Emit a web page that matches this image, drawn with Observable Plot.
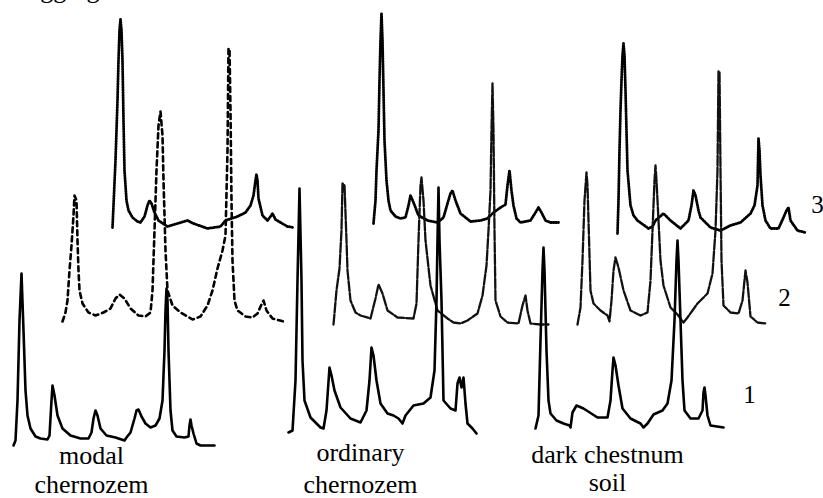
<!DOCTYPE html>
<html><head><meta charset="utf-8">
<script src="https://cdn.jsdelivr.net/npm/d3@7"></script>
<script src="https://cdn.jsdelivr.net/npm/@observablehq/plot@0.6"></script>
<style>body{margin:0;background:#fff} #chart svg text{font-family:'Liberation Serif','Times New Roman',serif !important}</style>
</head><body><div id="chart"></div>
<script>
// ---- Data: diffractogram scans (position along scan, intensity above baseline) ----
const soilsTop = ["modal", "ordinary", "dark chestnum"];
const soilsBottom = ["chernozem", "chernozem", "soil"];
const curveLabels = ["1", "2", "3"];
const titleText = "Aggregates";

// modal chernozem
const modal1Pos = [0,2,4,6,8,10,12,14,17,22,27,34,36,38,39,41,44,49,57,67,75,78,80,82,84,87,93,102,111,113,117,121,123,125,128,132,137,142,146,149,151,152,153,154,155,157,159,163,171,175,176,177,178,180,183,187,201];
const modal1Int = [0,5,45,125,172,115,55,30,17,9,7,6,10,45,60,50,30,17,10,7,7,13,27,35,30,17,10,8,5,8,13,27,35,36,29,22,18,20,27,45,95,135,157,145,95,35,15,9,8,9,20,26,20,12,2,0,0];
const modal2Pos = [0,3,5,7,9,11,12,14,15,16,17,20,26,33,41,48,53,57,62,68,76,83,88,90,92,94,96,98,100,101,103,105,110,118,130,138,145,150,155,160,163,165,166,167,168,169,170,172,175,183,190,195,199,201,204,210,221];
const modal2Int = [0,9,21,51,76,106,126,121,81,51,31,18,9,6,9,13,23,27,23,13,6,5,9,31,91,151,196,210,186,141,71,31,16,9,2,5,16,31,53,71,86,171,273,273,211,121,61,21,11,5,4,8,17,21,11,3,0];
const modal3Pos = [0,1,3,5,6,7,8,9,10,11,12,14,16,20,25,28,32,35,37,39,42,46,55,65,75,81,95,108,113,125,133,138,141,143,144,145,146,150,155,158,160,163,168,175,181];
const modal3Int = [0,22,67,127,167,197,208,197,167,107,57,27,17,10,6,5,11,22,27,24,15,7,1,4,7,4,-1,1,7,11,15,22,32,47,53,47,29,12,7,11,14,8,5,1,0];

// ordinary chernozem
const ordinary1Pos = [0,4,7,9,11,13,14,16,22,32,35,38,41,43,46,52,62,72,78,81,83,85,88,92,99,105,110,114,117,125,135,142,146,148,149,150,151,153,155,162,167,169,171,173,175,177,179,184,188];
const ordinary1Int = [0,2,52,152,244,152,72,32,15,5,4,22,65,57,42,25,14,10,22,52,85,77,52,29,19,17,14,9,17,27,29,35,62,132,192,245,192,132,32,24,22,49,55,45,55,29,9,4,-1];
const ordinary2Pos = [0,3,6,8,9,11,13,14,17,22,27,37,42,45,49,54,64,80,83,85,87,88,90,92,97,104,114,120,127,134,144,149,153,155,157,158,159,160,161,162,167,174,185,189,192,194,197,207,215];
const ordinary2Int = [0,34,56,94,141,139,84,54,24,12,9,6,26,40,31,14,7,6,21,84,139,147,124,84,39,14,6,2,1,4,11,29,59,94,134,194,241,194,94,24,8,2,1,19,29,14,1,0,0];
const ordinary3Pos = [0,2,3,5,6,7,8,9,10,11,13,15,17,22,27,32,35,37,40,45,54,64,70,74,77,79,82,87,97,107,114,120,127,132,134,136,138,140,143,147,157,162,165,168,172,177,185];
const ordinary3Int = [0,23,53,93,143,183,210,183,133,83,43,23,13,7,5,6,18,28,21,8,3,1,6,20,30,33,23,10,2,3,5,11,16,19,38,53,33,18,5,1,3,11,16,11,3,1,1];

// dark chestnut soil
const chestnut1Pos = [0,3,5,7,8,9,11,13,15,21,28,34,35,37,41,48,62,72,75,77,78,80,83,87,95,105,108,112,118,127,132,136,139,141,142,143,145,147,149,155,163,167,168,169,170,172,175,188];
const chestnut1Int = [0,13,88,158,181,158,78,28,15,8,5,3,1,16,23,20,11,11,28,58,71,63,43,20,10,5,1,5,14,18,25,48,108,168,188,168,108,48,18,10,10,18,36,41,33,13,3,1];
const chestnut2Pos = [0,3,5,7,9,10,11,13,16,23,30,32,34,36,38,41,46,53,63,70,73,75,77,78,79,81,83,86,93,100,106,110,120,130,135,138,140,141,142,143,144,146,153,161,165,168,170,173,180,188];
const chestnut2Int = [0,17,64,124,152,139,104,34,21,14,9,3,24,54,67,57,34,14,9,12,44,94,144,159,144,104,64,39,17,10,2,7,21,31,51,94,154,253,253,154,64,19,12,11,24,54,42,8,2,1];
const chestnut3Pos = [0,1,2,3,4,5,6,7,8,9,10,13,16,20,31,35,38,46,53,63,71,74,76,78,81,83,93,103,113,123,133,137,140,141,142,143,145,148,153,161,166,169,171,173,180,188];
const chestnut3Int = [0,33,83,123,153,178,190,178,143,103,63,28,18,13,5,7,13,20,13,5,13,28,43,38,23,16,6,3,8,11,20,28,48,95,83,58,28,13,5,5,16,23,26,13,3,1];

const scans = [
  [[modal1Pos, modal1Int], [modal2Pos, modal2Int], [modal3Pos, modal3Int]],
  [[ordinary1Pos, ordinary1Int], [ordinary2Pos, ordinary2Int], [ordinary3Pos, ordinary3Int]],
  [[chestnut1Pos, chestnut1Int], [chestnut2Pos, chestnut2Int], [chestnut3Pos, chestnut3Int]]
];

// ---- Layout (waterfall offsets) ----
const startX = [[13, 62, 112], [288, 333, 373], [535, 577, 617]];
const baseY = [[53, 177, 271], [66, 174, 275], [70, 174, 265]];
const soilLabelX = [91, 360, 607];
const soilTopY = [35, 38, 36];
const soilBottomY = [6, 6, 8];
const curveLabelX = [749, 784, 817];
const curveLabelY = [96, 193, 286];

// ---- Styles ----
const styleFor = (g, c) => {
  if (c === 0) return {stroke: "#000", strokeWidth: 2.6};
  if (c === 1) return g === 0
    ? {stroke: "#000", strokeWidth: 2.6, strokeDasharray: "5,4"}
    : {stroke: "#111", strokeWidth: 2.3, strokeDasharray: "10,2"};
  return {stroke: "#000", strokeWidth: 2.8, strokeDasharray: "1,1.6"};
};

const marks = [];
for (let c = 2; c >= 0; c--) {
  for (let g = 0; g < 3; g++) {
    const [pos, inten] = scans[g][c];
    const rows = pos.map((p, i) => ({x: startX[g][c] + p, y: baseY[g][c] + inten[i]}));
    marks.push(Plot.line(rows, {x: "x", y: "y", curve: "linear", strokeLinejoin: "round", ...styleFor(g, c)}));
  }
}

const font = "Liberation Serif";
const soilRowsTop = soilsTop.map((t, i) => ({t, x: soilLabelX[i], y: soilTopY[i]}));
const soilRowsBottom = soilsBottom.map((t, i) => ({t, x: soilLabelX[i], y: soilBottomY[i]}));
const curveRows = curveLabels.map((t, i) => ({t, x: curveLabelX[i], y: curveLabelY[i]}));

marks.push(Plot.text(soilRowsTop, {x: "x", y: "y", text: "t", fontSize: 26, fontFamily: font, lineAnchor: "bottom", textAnchor: "middle", fill: "#000"}));
marks.push(Plot.text(soilRowsBottom, {x: "x", y: "y", text: "t", fontSize: 26, fontFamily: font, lineAnchor: "bottom", textAnchor: "middle", fill: "#000"}));
marks.push(Plot.text(curveRows, {x: "x", y: "y", text: "t", fontSize: 25, fontFamily: font, lineAnchor: "bottom", textAnchor: "middle", fill: "#000"}));
marks.push(Plot.text([{t: titleText, x: 21, y: 501}], {x: "x", y: "y", text: "t", fontSize: 26, fontFamily: font, lineAnchor: "bottom", textAnchor: "start", fill: "#000"}));

const chart = Plot.plot({
  width: 823,
  height: 498,
  margin: 0,
  style: {fontFamily: font, background: "#fff", overflow: "hidden"},
  x: {domain: [0, 823], axis: null},
  y: {domain: [0, 498], axis: null},
  marks
});
document.getElementById("chart").appendChild(chart);
</script>
</body></html>
